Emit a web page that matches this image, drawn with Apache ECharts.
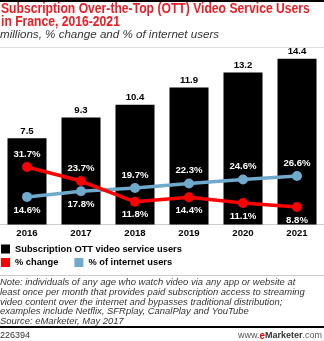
<!DOCTYPE html>
<html>
<head>
<meta charset="utf-8">
<script src="https://cdn.jsdelivr.net/npm/echarts@6/dist/echarts.min.js"></script>
<style>
  html, body { margin: 0; padding: 0; background: #fff; }
  #chart { width: 324px; height: 341px; }
</style>
</head>
<body>
<div id="chart"></div>
<script>
// Subscription OTT video service users in France, 2016-2021
const years = ['2016', '2017', '2018', '2019', '2020', '2021'];
const usersMillions = [7.5, 9.3, 10.4, 11.9, 13.2, 14.4];
const pctChange = [31.7, 23.7, 11.8, 14.4, 11.1, 8.8];
const pctOfInternetUsers = [14.6, 17.8, 19.7, 22.3, 24.6, 26.6];

const seriesNames = ['Subscription OTT video service users', '% change', '% of internet users'];
const titleLines = ['Subscription Over-the-Top (OTT) Video Service Users', 'in France, 2016-2021'];
const subtitle = 'millions, % change and % of internet users';
const noteLines = [
  'Note: individuals of any age who watch video via any app or website at',
  'least once per month that provides paid subscription access to streaming',
  'video content over the internet and bypasses traditional distribution;',
  'examples include Netflix, SFRplay, CanalPlay and YouTube',
  'Source: eMarketer, May 2017'
];
const chartId = '226394';

const SANS = '"Liberation Sans", Arial, sans-serif';
const RED = '#ff0000';
const BLUE = '#6fa9cb';

// Which side of each point the white value label sits on
const changeLabelSide = ['top', 'top', 'bottom', 'bottom', 'bottom', 'bottom'];
const shareLabelSide = ['bottom', 'bottom', 'top', 'top', 'top', 'top'];

function lineData(values, sides) {
  return values.map((v, i) => ({ value: v, label: { position: sides[i] } }));
}

const lineLabel = {
  show: true,
  color: '#fff',
  fontFamily: SANS,
  fontWeight: 'bold',
  fontSize: 9.6,
  distance: 3,
  formatter: p => p.value.toFixed(1) + '%'
};

const graphics = [];
// top rule
graphics.push({ type: 'rect', shape: { x: 0, y: 0, width: 324, height: 2 }, style: { fill: '#000' } });
// condensed bold headline
titleLines.forEach((t, i) => {
  graphics.push({
    type: 'text', x: 1, y: 2.5 + i * 12.8, scaleX: 0.868,
    style: { text: t, fill: '#ee1c24', font: 'bold 14px ' + SANS }
  });
});
graphics.push({
  type: 'text', x: 0, y: 29,
  style: { text: subtitle, fill: '#333', font: 'italic 11.6px ' + SANS }
});
graphics.push({ type: 'rect', shape: { x: 0, y: 47, width: 324, height: 1 }, style: { fill: '#ddd' } });
graphics.push({ type: 'rect', shape: { x: 0, y: 275, width: 324, height: 1 }, style: { fill: '#ccc' } });
noteLines.forEach((t, i) => {
  graphics.push({
    type: 'text', x: 0, y: 278 + i * 9.7,
    style: { text: t, fill: '#333', font: 'italic 9.45px ' + SANS }
  });
});
graphics.push({ type: 'rect', shape: { x: 0, y: 326, width: 324, height: 2 }, style: { fill: '#000' } });
graphics.push({
  type: 'text', x: 0, y: 331,
  style: { text: chartId, fill: '#333', font: '9px ' + SANS }
});
graphics.push({
  type: 'text', right: 2, y: 331,
  style: {
    text: '{w|www.}{e|e}{m|Marketer}{w|.com}',
    rich: {
      w: { fill: '#555', font: '9px ' + SANS },
      e: { fill: '#e00', font: 'bold 10px ' + SANS },
      m: { fill: '#333', font: 'bold 9px ' + SANS }
    }
  }
});

const legendText = { color: '#000', fontFamily: SANS, fontWeight: 'bold', fontSize: 9.3 };

const chart = echarts.init(document.getElementById('chart'), null, { renderer: 'canvas' });
chart.setOption({
  animation: false,
  backgroundColor: '#fff',
  grid: { left: 0, right: 0, top: 49.5, bottom: 116.5, containLabel: false },
  xAxis: {
    type: 'category',
    data: years,
    axisLine: { lineStyle: { color: '#ccc', width: 1 } },
    axisTick: { show: false },
    axisLabel: { color: '#000', fontFamily: SANS, fontWeight: 'bold', fontSize: 9.6, margin: 3.5 }
  },
  yAxis: [
    { type: 'value', min: 0, max: 15.2, show: false },
    { type: 'value', min: -1.2, max: 99, show: false }
  ],
  legend: [
    {
      data: [{ name: seriesNames[0], icon: 'rect' }],
      left: 1, top: 244.5, padding: 0, itemWidth: 9, itemHeight: 9, itemGap: 16,
      textStyle: legendText
    },
    {
      data: [{ name: seriesNames[1], icon: 'rect' }, { name: seriesNames[2], icon: 'rect' }],
      left: 1, top: 258, padding: 0, itemWidth: 9, itemHeight: 9, itemGap: 16,
      textStyle: legendText
    }
  ],
  series: [
    {
      name: seriesNames[0],
      type: 'bar',
      data: usersMillions,
      barWidth: 39,
      itemStyle: { color: '#000' },
      label: {
        show: true, position: 'top', distance: 2, color: '#000',
        fontFamily: SANS, fontWeight: 'bold', fontSize: 9.6,
        formatter: p => p.value.toFixed(1)
      },
      z: 1
    },
    {
      name: seriesNames[1],
      type: 'line',
      yAxisIndex: 1,
      data: lineData(pctChange, changeLabelSide),
      symbol: 'circle', symbolSize: 10,
      lineStyle: { color: RED, width: 3.5 },
      itemStyle: { color: RED },
      label: lineLabel,
      z: 3
    },
    {
      name: seriesNames[2],
      type: 'line',
      yAxisIndex: 1,
      data: lineData(pctOfInternetUsers, shareLabelSide),
      symbol: 'circle', symbolSize: 10,
      lineStyle: { color: BLUE, width: 3.5 },
      itemStyle: { color: BLUE },
      label: lineLabel,
      z: 2
    }
  ],
  graphic: graphics
});
</script>
</body>
</html>
